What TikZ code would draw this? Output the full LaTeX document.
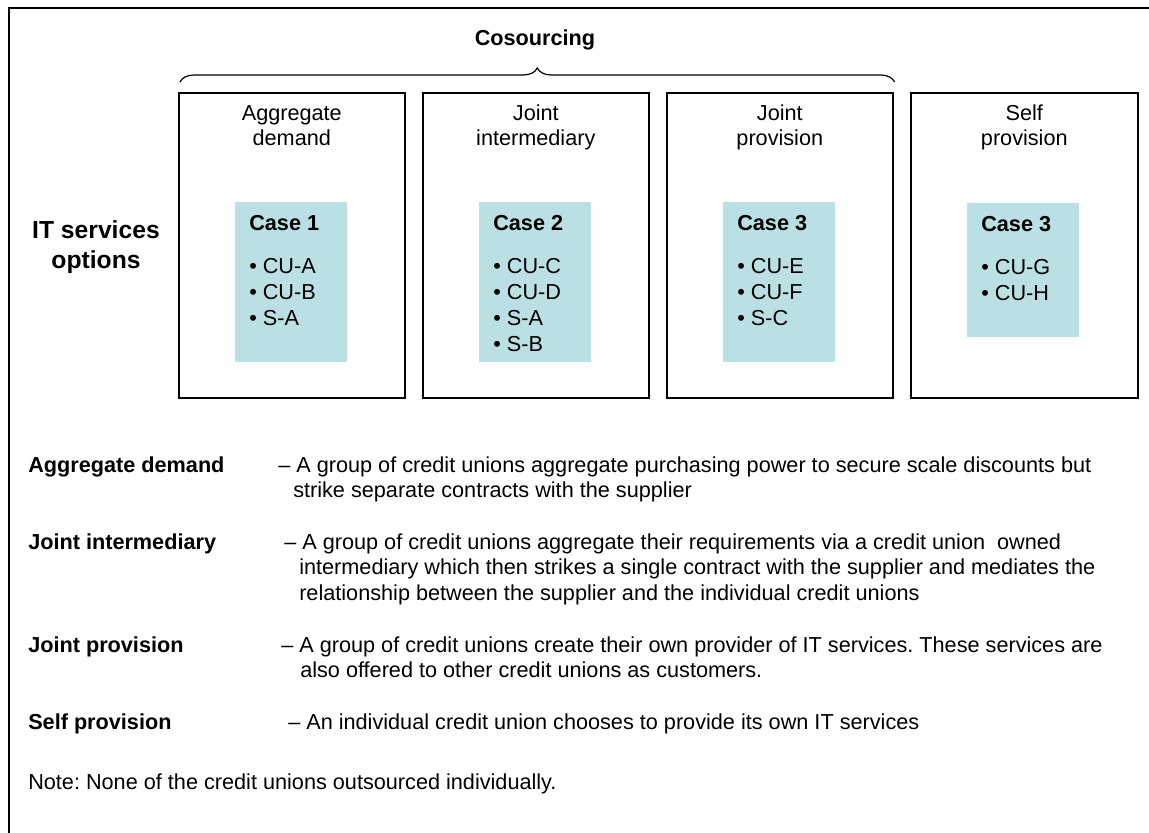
\documentclass[tikz,border=0pt]{standalone}
\usepackage{fontspec}
\setmainfont{Liberation Sans}
\usetikzlibrary{decorations.pathreplacing,calc}
\definecolor{caseteal}{RGB}{187,224,227}
\newcommand\optfont{\fontsize{16.25}{18.75}\selectfont\frenchspacing}
\tikzset{
  optbox/.style={draw, line width=1.2pt, anchor=north west, minimum width=169.5pt, minimum height=228.75pt, inner sep=0pt},
  casebox/.style={fill=caseteal, anchor=north west, minimum width=84pt, minimum height=120pt, inner sep=0pt},
  optitle/.style={anchor=base, inner sep=0pt, font=\optfont},
  casehead/.style={anchor=base west, inner sep=0pt, font=\optfont\bfseries},
  caseitem/.style={anchor=base west, inner sep=0pt, font=\optfont},
  deflabel/.style={anchor=base west, inner sep=0pt, font=\optfont\bfseries},
  deftext/.style={anchor=base west, inner sep=0pt, font=\optfont},
}
\begin{document}
\begin{tikzpicture}[x=0.75pt,y=-0.75pt]
	\useasboundingbox (0,0) rectangle (1149,832);
	\draw[line width=1.2pt] (9,840) -- (9,8) -- (1160,8);

	% the four options
	\node[optbox] (agg) at (178,92) {};
	\node[optbox] (jint) at (422,92) {};
	\node[optbox] (jprov) at (666,92) {};
	\node[optbox, minimum width=170.25pt] (self) at (910,92) {};

	\node[optitle] (agg-t1) at ($(agg.north)+(0,28)$) {Aggregate};
	\node[optitle] (agg-t2) at ($(agg.north)+(0,53)$) {demand};
	\node[optitle] (jint-t1) at ($(jint.north)+(0,28)$) {Joint};
	\node[optitle] (jint-t2) at ($(jint.north)+(0,53)$) {intermediary};
	\node[optitle] (jprov-t1) at ($(jprov.north)+(0,28)$) {Joint};
	\node[optitle] (jprov-t2) at ($(jprov.north)+(0,53)$) {provision};
	\node[optitle] (self-t1) at ($(self.north)+(0,28)$) {Self};
	\node[optitle] (self-t2) at ($(self.north)+(0,53)$) {provision};

	% cases
	\node[casebox] (c1) at ($(agg.north west)+(57,110)$) {};
	\node[casebox] (c2) at ($(jint.north west)+(57,110)$) {};
	\node[casebox] (c3) at ($(jprov.north west)+(57,110)$) {};
	\node[casebox, minimum height=100.5pt] (c4) at ($(self.north west)+(57,111)$) {};

	\node[casehead] (c1-h) at ($(c1.north west)+(14,28)$) {Case 1};
	\node[casehead] (c2-h) at ($(c2.north west)+(14,28)$) {Case 2};
	\node[casehead] (c3-h) at ($(c3.north west)+(14,28)$) {Case 3};
	\node[casehead] (c4-h) at ($(c4.north west)+(14,28)$) {Case 3};

	\foreach \t [count=\i] in {CU-A, CU-B, S-A}
		\node[caseitem] (c1-\i) at ($(c1.north west)+(14,{71+26*(\i-1)})$) {• \t};
	\foreach \t [count=\i] in {CU-C, CU-D, S-A, S-B}
		\node[caseitem] (c2-\i) at ($(c2.north west)+(14,{71+26*(\i-1)})$) {• \t};
	\foreach \t [count=\i] in {CU-E, CU-F, S-C}
		\node[caseitem] (c3-\i) at ($(c3.north west)+(14,{71+26*(\i-1)})$) {• \t};
	\foreach \t [count=\i] in {CU-G, CU-H}
		\node[caseitem] (c4-\i) at ($(c4.north west)+(14,{71+26*(\i-1)})$) {• \t};

	% cosourcing brace
	\coordinate (br-l) at ($(agg.north west)+(2,-10)$);
	\coordinate (br-r) at ($(jprov.north east)+(1,-10)$);
	\draw[decorate, decoration={brace, amplitude=10.5pt}, line width=0.9pt] (br-l) -- (br-r);
	\node[font=\optfont\bfseries] (cosrc) at (535,40) {Cosourcing};

	\node[align=center, font=\fontsize{18.5}{22.5}\selectfont\bfseries] (itopt) at (96,247) {IT services\\options};

	% definitions
	\node[deflabel] (l-agg) at (28,472) {Aggregate demand};
	\node[deftext] (d-agg1) at (278,472) {– A group of credit unions aggregate purchasing power to secure scale discounts but};
	\node[deftext] (d-agg2) at (293,497) {strike separate contracts with the supplier};

	\node[deflabel] (l-jint) at (28,549) {Joint intermediary};
	\node[deftext] (d-jint1) at (284,549) {– A group of credit unions aggregate their requirements via a credit union~ owned};
	\node[deftext] (d-jint2) at (299,574) {intermediary which then strikes a single contract with the supplier and mediates the};
	\node[deftext] (d-jint3) at (299,600) {relationship between the supplier and the individual credit unions};

	\node[deflabel] (l-jprov) at (28,652) {Joint provision};
	\node[deftext] (d-jprov1) at (281,652) {– A group of credit unions create their own provider of IT services. These services are};
	\node[deftext] (d-jprov2) at (300,677) {also offered to other credit unions as customers.};

	\node[deflabel] (l-self) at (28,729) {Self provision};
	\node[deftext] (d-self1) at (288,729) {– An individual credit union chooses to provide its own IT services};

	\node[deftext] (note) at (28,789) {Note: None of the credit unions outsourced individually.};
\end{tikzpicture}
\end{document}
